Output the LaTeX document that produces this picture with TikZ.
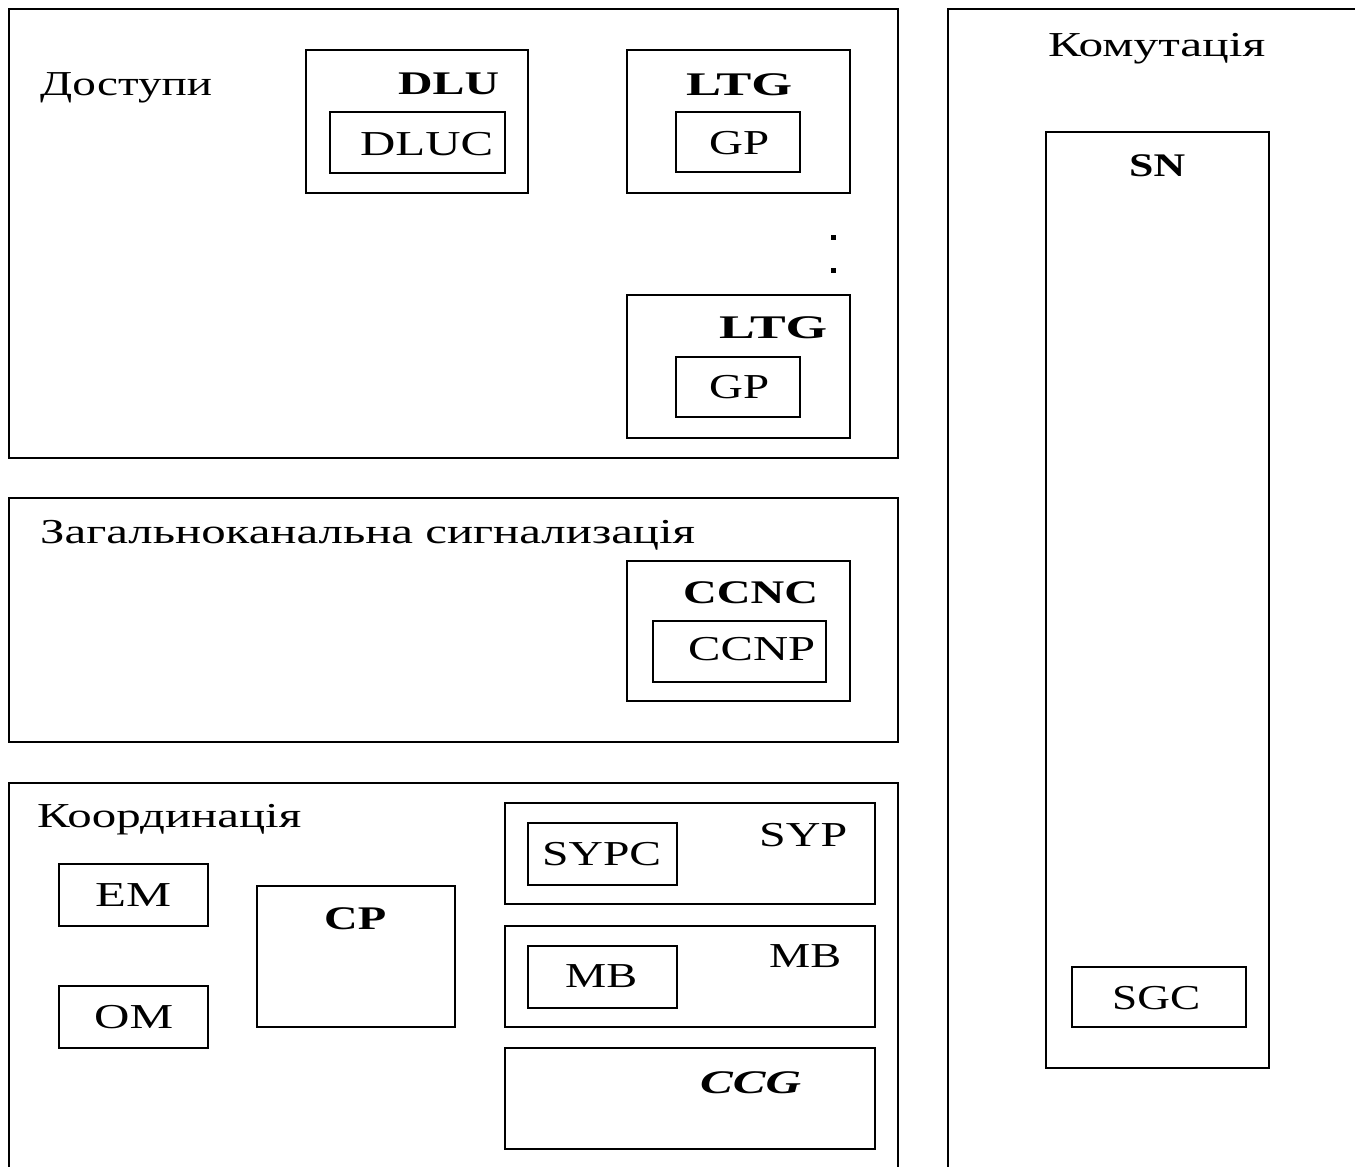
\documentclass[tikz,border=0pt]{standalone}
\usepackage{fontspec}
\usepackage{graphicx}
\setmainfont{Liberation Serif}
\usetikzlibrary{fit}
\newcommand\fitw[2]{\resizebox{#1pt}{\height}{#2}}
\tikzset{
  box/.style={draw, line width=1.8pt, inner sep=0pt, fit={#1}},
  lbl/.style={anchor=base west, inner sep=0pt, font=\fontsize{35}{40}\selectfont},
  blbl/.style={anchor=base west, inner sep=0pt, font=\fontsize{33}{38}\selectfont\bfseries},
  dotmark/.style={fill, inner sep=0pt, minimum size=5pt}
}
\begin{document}
\begin{tikzpicture}[x=1pt, y=-1pt]
\clip (0,0) rectangle (1355,1167);
\fill[white] (0,0) rectangle (1355,1167);
% Доступи
\node[box={(9,9) (898,458)}] (acc) {};
\node[box={(306,50) (528,193)}] (dlu) {};
\node[box={(330,112) (505,173)}] (dluc) {};
\node[box={(627,50) (850,193)}] (ltga) {};
\node[box={(676,112) (800,172)}] (gpa) {};
\node[box={(627,295) (850,438)}] (ltgb) {};
\node[box={(676,357) (800,417)}] (gpb) {};
\node[lbl] (tacc) at (40,95) {\fitw{172}{Доступи}};
\node[blbl] (tdlu) at (398,94) {\fitw{101}{DLU}};
\node[lbl] (tdluc) at (360,155) {\fitw{133}{DLUC}};
\node[blbl] (tltga) at (686,95) {\fitw{106}{LTG}};
\node[lbl] (tgpa) at (709,154) {\fitw{60}{GP}};
\node[blbl] (tltgb) at (719,338) {\fitw{108}{LTG}};
\node[lbl] (tgpb) at (709,398) {\fitw{60}{GP}};
\node[dotmark] (d1) at (833,237) {};
\node[dotmark] (d2) at (833,270) {};
% Загальноканальна сигналізація
\node[box={(9,498) (898,742)}] (ccs) {};
\node[box={(627,561) (850,701)}] (ccnc) {};
\node[box={(653,621) (826,682)}] (ccnp) {};
\node[lbl] (tccs) at (40,543) {\fitw{655}{Загальноканальна сигнализація}};
\node[blbl] (tccnc) at (683,603) {\fitw{135}{CCNC}};
\node[lbl] (tccnp) at (688,660) {\fitw{127}{CCNP}};
% Координація
\node[box={(9,783) (898,1200)}] (coord) {};
\node[box={(59,864) (208,926)}] (em) {};
\node[box={(59,986) (208,1048)}] (om) {};
\node[box={(257,886) (455,1027)}] (cp) {};
\node[box={(505,803) (875,904)}] (syp) {};
\node[box={(528,823) (677,885)}] (sypc) {};
\node[box={(505,926) (875,1027)}] (mb) {};
\node[box={(528,946) (677,1008)}] (mbi) {};
\node[box={(505,1048) (875,1149)}] (ccg) {};
\node[lbl] (tcoord) at (37,827) {\fitw{264}{Координація}};
\node[lbl] (tem) at (95,906) {\fitw{76}{EM}};
\node[lbl] (tom) at (94,1028) {\fitw{79}{OM}};
\node[blbl] (tcp) at (324,929) {\fitw{62}{CP}};
\node[lbl] (tsypc) at (542,865) {\fitw{119}{SYPC}};
\node[lbl] (tsyp) at (759,846) {\fitw{88}{SYP}};
\node[lbl] (tmbi) at (565,987) {\fitw{72}{MB}};
\node[lbl] (tmb) at (769,967) {\fitw{72}{MB}};
\node[blbl] (tccg) at (700,1093) {\fitw{101}{\itshape CCG}};
% Комутація
\node[box={(948,9) (1400,1200)}] (kom) {};
\node[box={(1046,132) (1269,1068)}] (sn) {};
\node[box={(1072,967) (1246,1027)}] (sgc) {};
\node[lbl] (tkom) at (1048,56) {\fitw{217}{Комутація}};
\node[blbl] (tsn) at (1129,176) {\fitw{56}{SN}};
\node[lbl] (tsgc) at (1112,1009) {\fitw{88}{SGC}};
\end{tikzpicture}
\end{document}
